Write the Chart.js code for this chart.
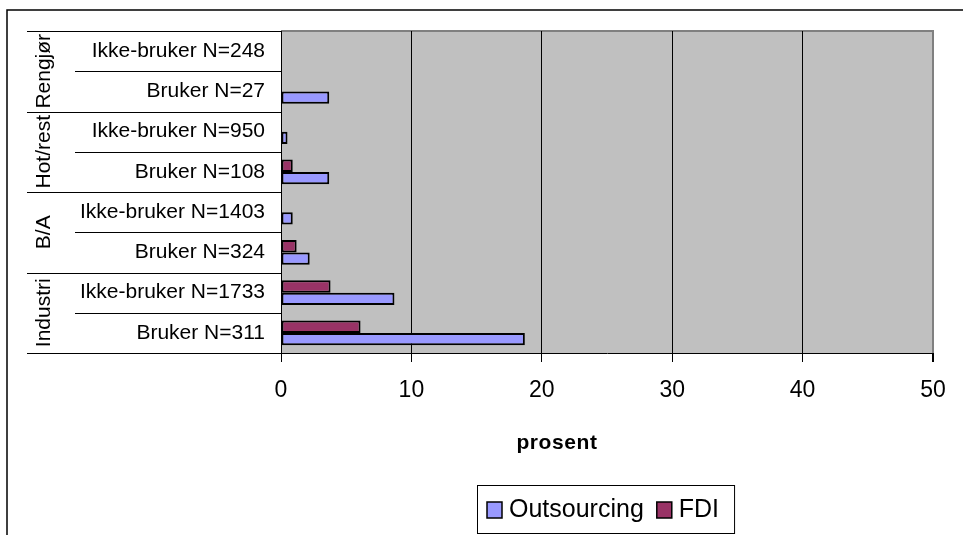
<!DOCTYPE html>
<html>
<head>
<meta charset="utf-8">
<script src="https://cdn.jsdelivr.net/npm/chart.js@4/dist/chart.umd.min.js"></script>
<style>
  html, body { margin: 0; padding: 0; background: #ffffff; }
  #wrap { width: 963px; height: 535px; }
</style>
</head>
<body>
<div id="wrap"><canvas id="chart" width="963" height="535"></canvas></div>
<script>
// Industry groups, each holding two user categories (top to bottom)
const groups = ['Rengjør', 'Hot/rest', 'B/A', 'Industri'];
const groupSizes = [2, 2, 2, 2];
const categories = [
  'Ikke-bruker N=248', 'Bruker N=27',
  'Ikke-bruker N=950', 'Bruker N=108',
  'Ikke-bruker N=1403', 'Bruker N=324',
  'Ikke-bruker N=1733', 'Bruker N=311'
];
// Share (prosent) per category
const outsourcing = [0, 3.7, 0.5, 3.7, 0.9, 2.2, 8.7, 18.7];
const fdi = [0, 0, 0, 0.9, 0, 1.2, 3.8, 6.1];
// Value axis
const xMin = 0, xMax = 50, xStep = 10;
const xTitle = 'prosent';

const FONT = "'Liberation Sans', Arial, sans-serif";
const COL_OUT = '#9999FF';
const COL_FDI = '#993366';

const framePlugin = {
  id: 'frame',
  beforeDraw(chart) {
    const { ctx, chartArea: a } = chart;
    ctx.save();
    // outer chart frame
    ctx.strokeStyle = '#000';
    ctx.lineWidth = 1.5;
    ctx.beginPath();
    ctx.moveTo(7, chart.height + 2);
    ctx.lineTo(7, 10);
    ctx.lineTo(chart.width + 2, 10);
    ctx.stroke();
    // plot background
    ctx.fillStyle = '#C0C0C0';
    ctx.fillRect(a.left, a.top, a.right - a.left, a.bottom - a.top);
    // plot border (top edge)
    ctx.strokeStyle = '#808080';
    ctx.lineWidth = 2;
    ctx.beginPath();
    ctx.moveTo(a.left, a.top);
    ctx.lineTo(a.right + 1, a.top);
    ctx.stroke();
    ctx.restore();
  },
  afterDraw(chart) {
    const { ctx, chartArea: a } = chart;
    const y = chart.scales.y;
    const n = categories.length;
    const edge = (i) => {
      if (i === 0) return y.top;
      if (i === n) return y.bottom;
      return (y.getPixelForValue(i - 1) + y.getPixelForValue(i)) / 2;
    };
    ctx.save();
    ctx.strokeStyle = '#000';
    ctx.lineWidth = 1;
    // category dividers; group dividers reach further left
    const groupEdges = new Set([0]);
    let acc = 0;
    groupSizes.forEach(s => { acc += s; groupEdges.add(acc); });
    for (let i = 0; i <= n; i++) {
      const py = Math.round(edge(i)) + 0.5;
      const x0 = groupEdges.has(i) ? 27 : 75;
      ctx.beginPath();
      ctx.moveTo(x0, py);
      ctx.lineTo(a.left, py);
      ctx.stroke();
    }
    // rotated group names
    ctx.fillStyle = '#000';
    ctx.font = '21px ' + FONT;
    ctx.textAlign = 'center';
    ctx.textBaseline = 'middle';
    let start = 0;
    groups.forEach((g, gi) => {
      const top = edge(start), bottom = edge(start + groupSizes[gi]);
      const cy = (top + bottom) / 2;
      ctx.save();
      ctx.translate(44, cy);
      ctx.rotate(-Math.PI / 2);
      ctx.fillText(g, 0, 0);
      ctx.restore();
      start += groupSizes[gi];
    });
    // value axis title
    ctx.font = 'bold 21px ' + FONT;
    ctx.letterSpacing = '0.6px';
    ctx.fillText(xTitle, 557, 443);
    ctx.letterSpacing = '0px';
    // legend (Outsourcing first)
    const items = chart.data.datasets.slice().reverse();
    ctx.font = '25px ' + FONT;
    ctx.textAlign = 'left';
    const boxL = 477, boxT = 485, boxH = 48;
    let x = boxL + 10;
    const cyL = boxT + boxH / 2;
    const parts = items.map(d => {
      const w = ctx.measureText(d.label).width;
      const p = { d, x, w };
      x += 17 + 6 + w + 12;
      return p;
    });
    const boxR = x - 12 + 14;
    ctx.fillStyle = '#fff';
    ctx.fillRect(boxL, boxT, boxR - boxL, boxH);
    ctx.strokeStyle = '#000';
    ctx.lineWidth = 1;
    ctx.strokeRect(boxL + 0.5, boxT + 0.5, boxR - boxL, boxH);
    parts.forEach(p => {
      ctx.fillStyle = p.d.backgroundColor;
      ctx.fillRect(p.x, cyL - 7, 15, 16);
      ctx.lineWidth = 1.5;
      ctx.strokeStyle = '#000';
      ctx.strokeRect(p.x, cyL - 7, 15, 16);
      ctx.fillStyle = '#000';
      ctx.fillText(p.d.label, p.x + 17 + 5, cyL + 1);
    });
    ctx.restore();
  }
};

new Chart(document.getElementById('chart'), {
  type: 'bar',
  data: {
    labels: categories,
    datasets: [
      { label: 'FDI', data: fdi, backgroundColor: COL_FDI, borderColor: '#000', borderWidth: 2, borderSkipped: false },
      { label: 'Outsourcing', data: outsourcing, backgroundColor: COL_OUT, borderColor: '#000', borderWidth: 2, borderSkipped: false }
    ]
  },
  options: {
    indexAxis: 'y',
    responsive: false,
    animation: false,
    events: [],
    layout: { padding: { top: 31, right: 30, left: 0, bottom: 0 } },
    datasets: { bar: { categoryPercentage: 0.62, barPercentage: 1.0, inflateAmount: 0 } },
    plugins: { legend: { display: false }, tooltip: { enabled: false } },
    scales: {
      y: {
        type: 'category',
        afterFit(s) { s.width = 281; },
        grid: { display: false, drawTicks: false },
        border: { display: true, color: '#000', width: 1 },
        ticks: { color: '#000', padding: 16, font: { family: FONT, size: 21 } }
      },
      x: {
        min: xMin, max: xMax,
        afterFit(s) { s.height = 182; },
        grid: {
          color: (c) => (c.index === (xMax - xMin) / xStep ? '#808080' : '#000'),
          lineWidth: (c) => (c.index === (xMax - xMin) / xStep ? 2 : 1),
          tickColor: '#000',
          tickLength: 9
        },
        border: { display: true, color: '#000', width: 1 },
        ticks: { stepSize: xStep, color: '#000', padding: 15, maxRotation: 0, font: { family: FONT, size: 23 } },
        title: { display: false }
      }
    }
  },
  plugins: [framePlugin]
});
</script>
</body>
</html>
